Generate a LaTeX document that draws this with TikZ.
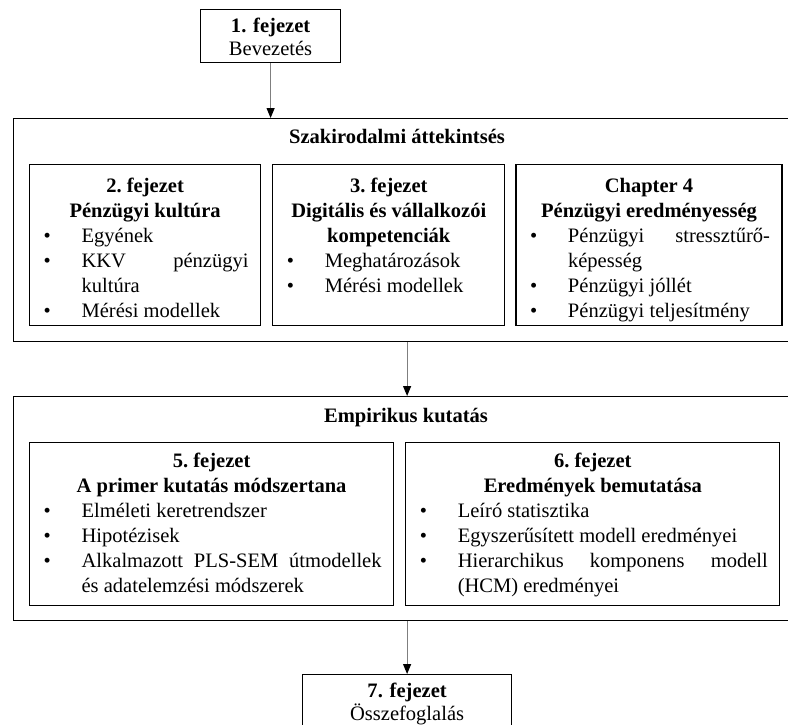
\documentclass[tikz,border=0pt]{standalone}
\usepackage{fontspec}
\setmainfont{Liberation Serif}
\usetikzlibrary{positioning,arrows.meta}
\definecolor{nyilszurke}{HTML}{7F7F7F}
\frenchspacing
\hyphenpenalty=10000
\exhyphenpenalty=10000
\newcommand{\cim}[2]{{\centering\bfseries #1\par #2\par}}
\newcommand{\pont}[1]{\par\noindent\hangindent=30pt\hangafter=1
  \makebox[30pt][l]{\hspace{1.5pt}\textbullet}#1\par}

\begin{document}
\begin{tikzpicture}[
  x=0.75pt, y=-0.75pt,
  font=\fontsize{15.4pt}{18.75pt}\selectfont,
  keret/.style={draw, line width=1.1pt, anchor=north west, inner sep=0pt,
                minimum width=586.5pt},
  focim/.style={font=\fontsize{15.4pt}{18.75pt}\selectfont\bfseries,
                anchor=base, inner sep=0pt},
  fejezet/.style={draw, line width=0.9pt, anchor=north west, align=justify,
                  inner xsep=9pt, inner ysep=0pt,
                  text height=21pt, text depth=99.75pt},
  also/.style={fejezet, text height=18.75pt, text depth=103.5pt},
  kis/.style={draw, line width=0.9pt, anchor=north west, inner sep=0pt,
              align=center, font=\fontsize{15.4pt}{17.25pt}\selectfont,
              text height=17.25pt, text depth=22.5pt},
  nyil/.style={-{Triangle[width=6pt,length=7.5pt,black]}, line width=0.8pt,
               nyilszurke}
]
  \useasboundingbox (0,0) rectangle (788,724);

  \node[kis, text width=105pt] (b1) at (200,9) {\textbf{1. fejezet}\\Bevezetés};

  \node[keret, minimum height=167.25pt] (szak) at (13,118) {};
  \node[focim] (szakcim) at (397,143) {Szakirodalmi áttekintsés};

  \node[fejezet, text width=155.25pt] (k2) at (29,164) {%
    \cim{2. fejezet}{Pénzügyi kultúra}
    \pont{Egyének}
    \pont{KKV pénzügyi\linebreak kultúra}
    \pont{Mérési modellek}};
  \node[fejezet, text width=156pt, right=8.25pt of k2] (k3) {%
    \cim{3. fejezet}{Digitális és vállalkozói\par kompetenciák}
    \pont{Meghatározások}
    \pont{Mérési modellek}};
  \node[fejezet, text width=181.5pt, right=7.5pt of k3] (k4) {%
    \cim{Chapter 4}{Pénzügyi eredményesség}
    \pont{Pénzügyi stressztűrő-\linebreak képesség}
    \pont{Pénzügyi jóllét}
    \pont{Pénzügyi teljesítmény}};

  \node[keret, minimum height=168pt] (emp) at (13,396) {};
  \node[focim] (empcim) at (406,422) {Empirikus kutatás};

  \node[also, text width=255pt] (k5) at (29,442) {%
    \cim{5. fejezet}{A primer kutatás módszertana}
    \pont{Elméleti keretrendszer}
    \pont{Hipotézisek}
    \pont{Alkalmazott PLS-SEM útmodellek\linebreak és adatelemzési módszerek}};
  \node[also, text width=262.5pt, right=8.25pt of k5] (k6) {%
    \cim{6. fejezet}{Eredmények bemutatása}
    \pont{Leíró statisztika}
    \pont{Egyszerűsített modell eredményei}
    \pont{Hierarchikus komponens modell\linebreak (HCM) eredményei}};

  \node[kis, text width=156.75pt] (k7) at (302,674) {\textbf{7. fejezet}\\Összefoglalás};

  \draw[nyil] (b1) -- (b1 |- szak.north);
  \draw[nyil] (szak.south -| k7) -- (emp.north -| k7);
  \draw[nyil] (emp.south -| k7) -- (k7);
\end{tikzpicture}
\end{document}
